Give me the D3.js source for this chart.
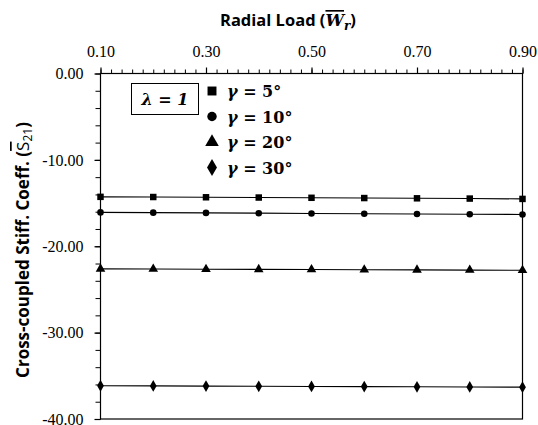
<!DOCTYPE html>
<html><head><meta charset="utf-8">
<script src="https://cdn.jsdelivr.net/npm/d3@7"></script>
<style>body{margin:0;background:#fff}svg{display:block}</style>
</head><body>
<svg id="c" width="538" height="425"></svg>
<script>
const loads = [0.10,0.20,0.30,0.40,0.50,0.60,0.70,0.80,0.90];
const gamma5  = [-14.28,-14.30,-14.33,-14.36,-14.39,-14.42,-14.45,-14.48,-14.52];
const gamma10 = [-16.08,-16.11,-16.14,-16.17,-16.20,-16.23,-16.26,-16.29,-16.32];
const gamma20 = [-22.62,-22.64,-22.66,-22.68,-22.70,-22.72,-22.74,-22.76,-22.78];
const gamma30 = [-36.15,-36.17,-36.19,-36.21,-36.23,-36.25,-36.27,-36.29,-36.31];
const seriesNames = ["5°","10°","20°","30°"];
const xTickLabels = [0.10,0.30,0.50,0.70,0.90];
const yTickLabels = [0,-10,-20,-30,-40];

const series = [
  {name: seriesNames[0], vals: gamma5,  sym: d3.symbolSquare},
  {name: seriesNames[1], vals: gamma10, sym: d3.symbolCircle},
  {name: seriesNames[2], vals: gamma20, sym: d3.symbolTriangle},
  {name: seriesNames[3], vals: gamma30, sym: d3.symbolDiamond}
];

const svg = d3.select("#c");
const L = 100.5, R = 522.5, T = 73.5, B = 419;
const x = d3.scaleLinear().domain([0.1,0.9]).range([L,R]);
const y = d3.scaleLinear().domain([0,-40]).range([T,B]);
const SERIF = "'Liberation Serif', 'Times New Roman', serif";
const fmt = d => d3.format(".2f")(d).replace("\u2212","-");

// frame
svg.append("rect").attr("x",L).attr("y",T).attr("width",R-L).attr("height",B-T)
  .attr("fill","none").attr("stroke","#000").attr("stroke-width",1.2);

// top axis
const xMinor = d3.range(0.10,0.9001,0.02);
svg.append("g").attr("transform",`translate(0,${T})`)
  .call(d3.axisTop(x).tickValues(xMinor).tickSize(4).tickFormat(""))
  .call(g=>{g.select(".domain").remove(); g.selectAll("line").attr("stroke-width",1);});
svg.append("g").attr("transform",`translate(0,${T})`)
  .call(d3.axisTop(x).tickValues(xTickLabels).tickSize(6).tickPadding(11).tickFormat(fmt))
  .call(g=>{g.select(".domain").remove(); g.selectAll("line").attr("stroke-width",1.2);
    g.selectAll("text").style("font-family",SERIF).style("font-size","16px").attr("fill","#000");});

// left axis
const yMinor = d3.range(0,-40.001,-2);
svg.append("g").attr("transform",`translate(${L},0)`)
  .call(d3.axisLeft(y).tickValues(yMinor).tickSize(5).tickFormat(""))
  .call(g=>{g.select(".domain").remove(); g.selectAll("line").attr("stroke-width",1);});
svg.append("g").attr("transform",`translate(${L},0)`)
  .call(d3.axisLeft(y).tickValues(yTickLabels).tickSize(6).tickPadding(11).tickFormat(fmt))
  .call(g=>{g.select(".domain").remove(); g.selectAll("line").attr("stroke-width",1.2);
    g.selectAll("text").style("font-family",SERIF).style("font-size","16px").attr("fill","#000");});

// lines & markers
const line = d3.line().x((d,i)=>x(loads[i])).y(d=>y(d));
series.forEach(s=>{
  svg.append("path").attr("d",line(s.vals)).attr("fill","none").attr("stroke","#000").attr("stroke-width",1.1);
  const size = s.sym===d3.symbolSquare?42: s.sym===d3.symbolCircle?34: 40;
  svg.append("g").selectAll("path").data(s.vals).join("path")
    .attr("transform",(d,i)=>`translate(${x(loads[i])},${y(d)})`)
    .attr("d",d3.symbol().type(s.sym).size(size)).attr("fill","#000");
});

// legend box lambda
svg.append("rect").attr("x",131.5).attr("y",83.5).attr("width",67).attr("height",31)
  .attr("fill","#fff").attr("stroke","#000").attr("stroke-width",1);
svg.append("text").attr("x",165).attr("y",105).attr("text-anchor","middle")
  .style("font-family","'DejaVu Serif', serif").style("font-size","16px").attr("font-weight","bold").attr("font-style","italic")
  .text("λ = 1");

// legend entries
series.forEach((s,i)=>{
  const ly = 91 + i*25.5;
  const sz = [80,70,80,85][i];
  svg.append("path").attr("transform",`translate(212,${ly})`)
    .attr("d",d3.symbol().type(s.sym).size(sz)).attr("fill","#000");
  const t = svg.append("text").attr("x",227).attr("y",ly+6)
    .style("font-family","'DejaVu Serif', serif").style("font-size","16px").attr("font-weight","bold");
  t.append("tspan").attr("font-style","italic").text("γ");
  t.append("tspan").text(" = " + s.name);
});

// top title
const tt = svg.append("text").attr("x",220).attr("y",26)
  .style("font-family","'Open Sans', sans-serif").style("font-size","16.5px").attr("font-weight","bold");
tt.append("tspan").text("Radial Load (");
tt.append("tspan").style("font-family","'DejaVu Serif', serif").attr("font-style","italic")
  .attr("text-decoration","overline").text("W");
tt.append("tspan").style("font-family","'DejaVu Serif', serif").attr("font-style","italic")
  .style("font-size","12px").attr("dy",4).text("r");
tt.append("tspan").attr("dy",-4).text(")");

// y title
const yt = svg.append("text").attr("transform","translate(29,250) rotate(-90)").attr("text-anchor","middle")
  .style("font-family","'Open Sans', sans-serif").style("font-size","17px").attr("font-weight","bold");
yt.append("tspan").text("Cross-coupled Stiff. Coeff. (");
yt.append("tspan").attr("font-weight","normal").attr("text-decoration","overline").text("S");
yt.append("tspan").attr("font-weight","normal").style("font-size","12px").attr("dy",3).text("21");
yt.append("tspan").attr("dy",-3).text(")");
</script>
</body></html>
